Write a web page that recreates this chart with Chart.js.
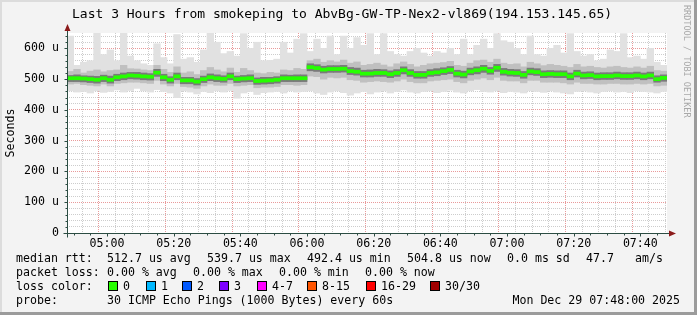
<!DOCTYPE html>
<html lang="en">
<head>
<meta charset="UTF-8">
<title>Last 3 Hours from smokeping</title>
<script src="https://cdn.jsdelivr.net/npm/chart.js"></script>
<style>
  body { margin: 0; padding: 0; background: #f3f3f3; }
  .graph { position: relative; width: 697px; height: 315px; overflow: hidden;
           font-family: 'DejaVu Sans Mono', monospace; color: #000; }
  .graph canvas { position: absolute; left: 0; top: 0; }
  .t { position: absolute; white-space: pre; font-size: 11.6px; line-height: 14px; }
  .title { position: absolute; left: 72px; top: 6px; font-size: 13px; line-height: 16px; white-space: pre; }
  .brand { position: absolute; left: 682px; top: 5px; font-size: 8.5px; color: #a8a8a8;
           writing-mode: vertical-rl; white-space: pre; }
  .sw { position: absolute; width: 8px; height: 8px; border: 1px solid #000; }
  .edge-r { position: absolute; right: 0; top: 0; width: 3px; height: 315px; background: #9b9b9b; }
  .edge-b { position: absolute; left: 0; bottom: 0; width: 697px; height: 3px; background: #9b9b9b; }
  .edge-l { position: absolute; left: 0; top: 0; width: 2px; height: 312px; background: #dcdcdc; }
  .edge-t { position: absolute; left: 0; top: 0; width: 694px; height: 2px; background: #dcdcdc; }
</style>
</head>
<body>
<div class="graph">
  <canvas id="chart" width="697" height="315"></canvas>
  <div class="edge-l"></div><div class="edge-t"></div>
  <div class="edge-r"></div><div class="edge-b"></div>
  <div class="title">Last 3 Hours from smokeping to AbvBg-GW-TP-Nex2-vl869(194.153.145.65)</div>
  <div class="brand">RRDTOOL / TOBI OETIKER</div>
  <div id="legend"></div>
</div>

<script>
// time axis: minutes after 04:00, one bin every 2 minutes from 04:48 to 07:48
const startMin = 48;
const binMin = 2;
const xTickLabels = ['05:00', '05:20', '05:40', '06:00', '06:20', '06:40', '07:00', '07:20', '07:40'];
const yTickLabels = ['0', '100 u', '200 u', '300 u', '400 u', '500 u', '600 u'];

// median rtt in microseconds
const median = [
  503, 503, 502, 500, 498, 503, 498, 506, 509, 512,
  511, 509, 508, 521, 506, 498, 509, 496, 496, 492,
  500, 506, 503, 501, 509, 500, 502, 503, 494, 495,
  496, 498, 503, 503, 503, 503, 539, 536, 531, 533,
  533, 534, 526, 524, 518, 518, 520, 520, 516, 520,
  529, 520, 514, 514, 520, 522, 526, 530, 518, 515,
  525, 529, 534, 527, 537, 524, 521, 520, 514, 525,
  523, 516, 517, 516, 516, 509, 518, 512, 513, 509,
  510, 510, 512, 510, 510, 512, 509, 512, 500, 504
];

// smoke: lightest (min..max)
const minRtt = [
  462, 458, 460, 455, 462, 457, 460, 465, 458, 463,
  470, 462, 458, 466, 460, 455, 440, 462, 458, 452,
  460, 456, 462, 458, 463, 438, 455, 460, 450, 456,
  458, 460, 455, 462, 458, 460, 462, 455, 450, 458,
  462, 456, 448, 455, 460, 452, 458, 462, 455, 460,
  465, 458, 455, 460, 462, 456, 460, 464, 458, 455,
  462, 466, 460, 458, 462, 456, 460, 458, 455, 462,
  460, 457, 462, 458, 455, 452, 460, 462, 458, 455,
  460, 462, 458, 460, 456, 462, 460, 458, 455, 460
];
const maxRtt = [
  640, 545, 555, 560, 650, 580, 595, 560, 650, 575,
  560, 550, 545, 615, 570, 550, 645, 565, 570, 555,
  595, 650, 620, 583, 590, 575, 648, 600, 620, 560,
  561, 565, 620, 585, 630, 648, 590, 630, 600, 640,
  580, 640, 600, 635, 610, 648, 580, 648, 590, 580,
  575, 590, 600, 585, 575, 590, 585, 600, 580, 630,
  580, 610, 630, 600, 648, 625, 620, 600, 580, 640,
  580, 575, 600, 610, 585, 648, 590, 575, 580, 560,
  565, 595, 590, 648, 570, 575, 565, 600, 555, 545
];

// smoke: middle band
const lo1 = [
  484, 486, 482, 480, 478, 484, 478, 486, 488, 490,
  490, 488, 486, 496, 484, 478, 486, 476, 474, 470,
  478, 484, 480, 480, 486, 478, 480, 482, 472, 474,
  474, 476, 482, 482, 480, 482, 510, 508, 500, 506,
  504, 506, 498, 496, 490, 492, 494, 492, 490, 494,
  500, 492, 488, 488, 494, 496, 498, 500, 492, 488,
  496, 500, 504, 498, 506, 496, 494, 494, 488, 496,
  496, 490, 490, 490, 488, 484, 490, 486, 486, 484,
  484, 486, 486, 484, 484, 486, 484, 486, 478, 480
];
const hi1 = [
  525, 532, 520, 526, 530, 524, 528, 530, 545, 534,
  533, 530, 528, 545, 532, 522, 540, 520, 524, 515,
  528, 538, 530, 524, 536, 522, 535, 528, 520, 518,
  522, 520, 530, 528, 535, 532, 560, 565, 555, 560,
  556, 562, 552, 556, 545, 548, 552, 546, 540, 550,
  556, 548, 540, 545, 550, 552, 554, 558, 545, 542,
  552, 560, 562, 555, 565, 552, 548, 550, 540, 555,
  550, 544, 548, 545, 542, 538, 548, 540, 542, 538,
  536, 540, 542, 538, 536, 540, 536, 542, 528, 526
];

// smoke: dark inner band
const lo2 = [
  492, 492, 491, 489, 487, 492, 487, 495, 498, 501,
  500, 498, 497, 509, 495, 487, 498, 485, 485, 481,
  489, 495, 492, 490, 498, 489, 491, 492, 483, 484,
  485, 487, 492, 492, 492, 492, 527, 525, 520, 522,
  522, 523, 515, 513, 507, 507, 509, 509, 505, 509,
  517, 509, 503, 503, 509, 511, 515, 518, 507, 504,
  514, 517, 522, 516, 525, 513, 510, 509, 503, 514,
  512, 505, 506, 505, 505, 498, 507, 501, 502, 498,
  499, 499, 501, 499, 499, 501, 498, 501, 490, 493
];
const hi2 = [
  512, 514, 511, 510, 509, 513, 510, 516, 520, 522,
  522, 520, 518, 532, 516, 508, 520, 506, 506, 502,
  510, 517, 514, 511, 520, 510, 512, 514, 504, 506,
  506, 508, 514, 513, 514, 514, 550, 547, 542, 544,
  544, 545, 538, 536, 529, 530, 532, 531, 527, 531,
  540, 531, 525, 525, 531, 534, 537, 541, 529, 526,
  536, 540, 545, 538, 548, 535, 532, 531, 525, 536,
  534, 527, 528, 527, 527, 520, 529, 523, 524, 520,
  521, 521, 523, 521, 521, 523, 520, 523, 511, 514
];

const lossLabels = ['0', '1', '2', '3', '4-7', '8-15', '16-29', '30/30'];
const lossColors = ['#26ff00', '#00b8ff', '#0059ff', '#7e00ff', '#ff00ff', '#ff5500', '#ff0000', '#a10000'];

const FONT = "'DejaVu Sans Mono', monospace";

function bars(lo, hi) {
  return lo.map((v, i) => ({ x: startMin + i * binMin + binMin / 2, y: [v, hi[i]] }));
}
const medianBand = median.map((m, i) => ({ x: startMin + i * binMin + binMin / 2, y: [m - 5, m + 5] }));

// white canvas + rrdtool style axes with arrows
const framePlugin = {
  id: 'frame',
  beforeDraw(chart) {
    const { ctx, chartArea: a } = chart;
    ctx.save();
    ctx.fillStyle = '#ffffff';
    ctx.fillRect(a.left, a.top, a.right - a.left, a.bottom - a.top);
    ctx.restore();
  },
  afterDraw(chart) {
    const { ctx, chartArea: a, scales } = chart;
    const x0 = Math.round(a.left) + 0.5, y0 = Math.round(a.bottom) + 0.5;
    ctx.save();
    ctx.strokeStyle = '#2c4d43';
    ctx.lineWidth = 1;
    ctx.beginPath();
    ctx.moveTo(x0, y0 + 4); ctx.lineTo(x0, a.top - 4);
    ctx.moveTo(x0 - 4, y0); ctx.lineTo(a.right + 4, y0);
    // ticks on the axes
    scales.y.ticks.forEach(t => {
      const py = Math.round(scales.y.getPixelForValue(t.value)) + 0.5;
      const len = t.value % 100 === 0 ? 3 : 2;
      ctx.moveTo(x0 - len, py); ctx.lineTo(x0, py);
    });
    scales.x.ticks.forEach(t => {
      const px = Math.round(scales.x.getPixelForValue(t.value)) + 0.5;
      const len = t.value % 20 === 0 ? 3 : 2;
      ctx.moveTo(px, y0); ctx.lineTo(px, y0 + len);
    });
    ctx.stroke();
    ctx.fillStyle = '#8b1a1a';
    ctx.beginPath();
    ctx.moveTo(x0, a.top - 9); ctx.lineTo(x0 - 3, a.top - 2); ctx.lineTo(x0 + 3, a.top - 2);
    ctx.closePath(); ctx.fill();
    ctx.beginPath();
    ctx.moveTo(a.right + 9, y0); ctx.lineTo(a.right + 2, y0 - 3); ctx.lineTo(a.right + 2, y0 + 3);
    ctx.closePath(); ctx.fill();
    ctx.restore();
  }
};

new Chart(document.getElementById('chart'), {
  type: 'bar',
  data: {
    datasets: [
      { data: bars(minRtt, maxRtt), backgroundColor: '#e1e1e1', order: 5 },
      { data: bars(lo1, hi1), backgroundColor: '#c0c0c0', order: 4 },
      { data: bars(lo2, hi2), backgroundColor: '#7a7a7a', order: 3 },
      { data: medianBand, backgroundColor: lossColors[0], order: 1 }
    ]
  },
  options: {
    responsive: false,
    animation: false,
    devicePixelRatio: 1,
    layout: { padding: { left: 0, right: 30, top: 33, bottom: 62 } },
    datasets: { bar: { grouped: false, barPercentage: 1, categoryPercentage: 1, borderWidth: 0 } },
    plugins: { legend: { display: false }, tooltip: { enabled: false } },
    scales: {
      x: {
        type: 'linear', min: startMin, max: startMin + 180, offset: false, z: 1,
        afterBuildTicks: s => {
          const t = [];
          for (let v = 50; v <= 225; v += 5) t.push({ value: v });
          s.ticks = t;
        },
        afterFit: s => { s.height = 20; },
        grid: {
          drawTicks: false,
          color: c => (c.tick && c.tick.value % 20 === 0) ? '#e99a9a' : '#cdcdcd'
        },
        border: { display: false, dash: [1, 1] },
        ticks: {
          padding: 4, maxRotation: 0, autoSkip: false, color: '#000',
          font: { family: FONT, size: 11.6 },
          callback: v => (v % 20 === 0) ? xTickLabels[(v - 60) / 20] : ''
        }
      },
      y: {
        min: 0, max: 650, z: 1,
        afterBuildTicks: s => {
          const t = [];
          for (let v = 0; v <= 640; v += 20) t.push({ value: v });
          s.ticks = t;
        },
        afterFit: s => { s.width = 67; },
        grid: {
          drawTicks: false,
          color: c => (c.tick && c.tick.value % 100 === 0) ? '#e99a9a' : '#cdcdcd'
        },
        border: { display: false, dash: [1, 1] },
        title: { display: true, text: 'Seconds', color: '#000', font: { family: FONT, size: 11.6 }, padding: { top: 4, bottom: 0 } },
        ticks: {
          padding: 8, color: '#000', autoSkip: false,
          font: { family: FONT, size: 11.6 },
          callback: v => (v % 100 === 0) ? yTickLabels[v / 100] : ''
        }
      }
    }
  },
  plugins: [framePlugin]
});

// text legend under the graph
const rows = [
  [258, [[16, 'median rtt:'], [107, '512.7 us avg'], [207, '539.7 us max'], [307, '492.4 us min'],
         [407, '504.8 us now'], [507, '0.0 ms sd'], [586, '47.7'], [635, 'am/s']]],
  [272, [[16, 'packet loss:'], [107, '0.00 % avg'], [193, '0.00 % max'], [279, '0.00 % min'], [365, '0.00 % now']]],
  [286, [[16, 'loss color:']]],
  [300, [[16, 'probe:'], [107, '30 ICMP Echo Pings (1000 Bytes) every 60s']]]
];
const swatchX = [108, 146, 182, 219, 257, 307, 366, 430];
const legend = document.getElementById('legend');
function addText(x, yc, s) {
  const d = document.createElement('div');
  d.className = 't';
  d.style.left = x + 'px';
  d.style.top = (yc - 7) + 'px';
  d.textContent = s;
  legend.appendChild(d);
  return d;
}
rows.forEach(([yc, items]) => items.forEach(([x, s]) => addText(x, yc, s)));
lossLabels.forEach((lab, i) => {
  const sw = document.createElement('div');
  sw.className = 'sw';
  sw.style.left = swatchX[i] + 'px';
  sw.style.top = (286 - 5) + 'px';
  sw.style.background = lossColors[i];
  legend.appendChild(sw);
  addText(swatchX[i] + 15, 286, lab);
});
const date = addText(0, 300, 'Mon Dec 29 07:48:00 2025');
date.style.left = 'auto';
date.style.right = '17px';
</script>
</body>
</html>
